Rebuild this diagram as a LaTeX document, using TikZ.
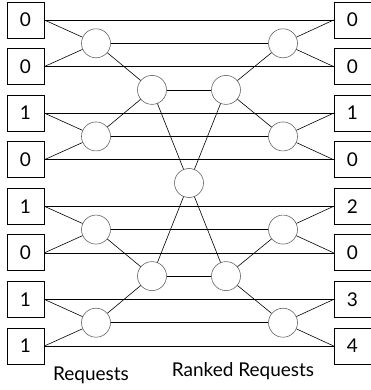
\documentclass[tikz,border=0pt]{standalone}
\usepackage{fontspec}
\setmainfont{Lato}
\tikzset{reqbox/.style={draw,thick,minimum width=37pt,minimum height=36pt,inner sep=0pt,font=\fontsize{19}{19}\selectfont},
  cell/.style={draw,gray!80!black,circle,fill=white,minimum size=29pt,inner sep=0pt}}

\begin{document}
\begin{tikzpicture}[x=1pt,y=-1pt,line width=0.6pt]
\useasboundingbox (0,0) rectangle (370,390);
\foreach \v [count=\i] in {0,0,1,0,1,0,1,1}{\node[reqbox] (in\i) at (25.5,{20+(\i-1)*46.57}) {\v};}
\foreach \v [count=\i] in {0,0,1,0,2,0,3,4}{\node[reqbox] (out\i) at (352.5,{20+(\i-1)*46.57}) {\v};}
\foreach \i in {1,...,4}{\node[cell] (a\i) at (96,{43.3+(\i-1)*93.14}) {}; \node[cell] (e\i) at (283,{43.3+(\i-1)*93.14}) {};}
\node[cell] (b1) at (152,89.9) {}; \node[cell] (b2) at (152,276.1) {};
\node[cell] (d1) at (226,89.9) {}; \node[cell] (d2) at (226,276.1) {};
\node[cell] (c) at (189,183) {};
% straight lines
\foreach \i in {1,...,8}{\draw (in\i.east) -- (out\i.west);}
\foreach \i in {1,...,4}{\draw (a\i) -- (e\i);}
\draw (b1) -- (d1); \draw (b2) -- (d2);
% first stage
\foreach \i/\j/\k in {1/1/2,2/3/4,3/5/6,4/7/8}{
  \draw (in\j.east) -- (a\i) -- (in\k.east);
  \draw (out\j.west) -- (e\i) -- (out\k.west);}
% second stage and center
\draw (a1) -- (b1) -- (a2); \draw (a3) -- (b2) -- (a4);
\draw (e1) -- (d1) -- (e2); \draw (e3) -- (d2) -- (e4);
\draw (b1) -- (c) -- (b2); \draw (d1) -- (c) -- (d2);
\node[font=\fontsize{19}{19}\selectfont] (req) at (91,375) {Requests};
\node[font=\fontsize{19}{19}\selectfont] (rank) at (243,371) {Ranked Requests};
\end{tikzpicture}
\end{document}
